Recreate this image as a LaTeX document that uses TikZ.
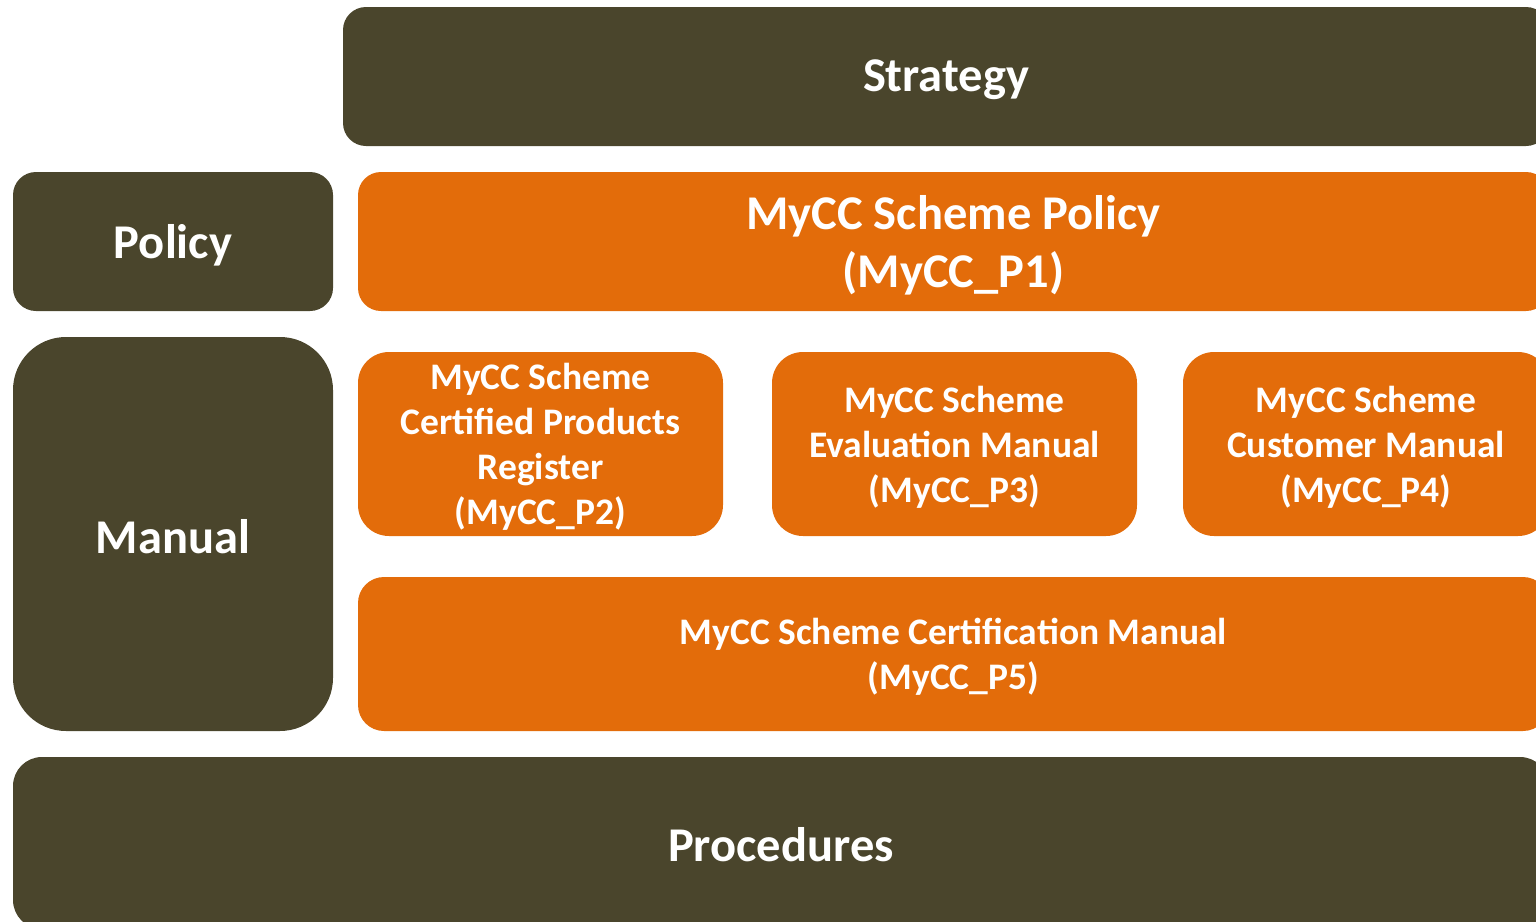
\documentclass[tikz,border=0pt]{standalone}
\usepackage{fontspec}
\setmainfont{Carlito}
\definecolor{olive}{HTML}{4A452C}
\definecolor{orng}{HTML}{E36C0A}
\tikzset{
  blk/.style={fill=#1, draw=none, inner sep=0pt, text=white, align=center, font=\bfseries},
  big/.style={font=\fontsize{48.5}{58}\selectfont\bfseries},
  small/.style={font=\fontsize{37.5}{45}\selectfont\bfseries},
  txt/.style={text=white, align=center, inner sep=0pt},
}
\begin{document}
\begin{tikzpicture}[x=1pt,y=-1pt]
\useasboundingbox (0,0) rectangle (1536,921);
\clip (0,0) rectangle (1536,921);
\node[blk=olive, big, rounded corners=23pt, minimum width=1206pt, minimum height=139pt] (strategy) at (946,76.5) {};
\node[txt, big] (strategyt) at (946,80) {Strategy};
\node[blk=olive, big, rounded corners=23pt, minimum width=320pt, minimum height=139pt] (policy) at (173,241.5) {};
\node[txt, big] (policyt) at (173,245) {Policy};
\node[blk=orng, big, rounded corners=23pt, minimum width=1191pt, minimum height=139pt] (p1) at (953.5,241.5) {};
\node[txt, big] (p1t) at (953.5,245) {MyCC Scheme Policy\\(MyCC\_P1)};
\node[blk=olive, big, rounded corners=53pt, minimum width=320pt, minimum height=394pt] (manual) at (173,534) {};
\node[txt, big] (manualt) at (173,537) {Manual};
\node[blk=orng, small, rounded corners=31pt, minimum width=365pt, minimum height=184pt] (p2) at (540.5,444) {};
\node[txt, small] (p2t) at (540.5,447) {MyCC Scheme\\Certified Products\\Register\\(MyCC\_P2)};
\node[blk=orng, small, rounded corners=31pt, minimum width=365pt, minimum height=184pt] (p3) at (954.5,444) {};
\node[txt, small] (p3t) at (954.5,447) {MyCC Scheme\\Evaluation Manual\\(MyCC\_P3)};
\node[blk=orng, small, rounded corners=31pt, minimum width=366pt, minimum height=184pt] (p4) at (1366,444) {};
\node[txt, small] (p4t) at (1366,447) {MyCC Scheme\\Customer Manual\\(MyCC\_P4)};
\node[blk=orng, small, rounded corners=26pt, minimum width=1191pt, minimum height=154pt] (p5) at (953.5,654) {};
\node[txt, small] (p5t) at (953.5,657) {MyCC Scheme Certification Manual\\(MyCC\_P5)};
\node[blk=olive, big, rounded corners=29pt, minimum width=1536pt, minimum height=172pt] (proc) at (781,843) {};
\node[txt, big] (proct) at (781,845) {Procedures};
\end{tikzpicture}
\end{document}
